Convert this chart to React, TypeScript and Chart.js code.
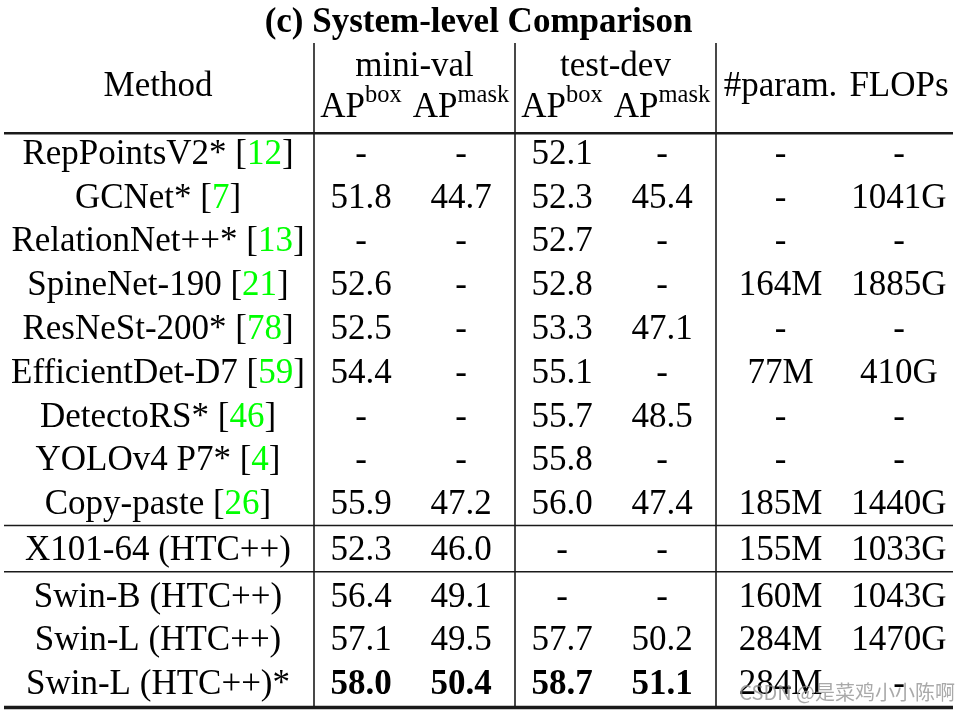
import React, { useEffect, useRef } from "react";
import { Chart, registerables } from "chart.js";

Chart.register(...registerables);

// ---------- data ----------
const TITLE = "(c) System-level Comparison";
const METHODS = [
  "RepPointsV2*",
  "GCNet*",
  "RelationNet++*",
  "SpineNet-190",
  "ResNeSt-200*",
  "EfficientDet-D7",
  "DetectoRS*",
  "YOLOv4 P7*",
  "Copy-paste",
  "X101-64 (HTC++)",
  "Swin-B (HTC++)",
  "Swin-L (HTC++)",
  "Swin-L (HTC++)*",
];
const CITATIONS = ["12", "7", "13", "21", "78", "59", "46", "4", "26", "", "", "", ""];
const MINIVAL_BOX = [null, 51.8, null, 52.6, 52.5, 54.4, null, null, 55.9, 52.3, 56.4, 57.1, 58.0];
const MINIVAL_MASK = [null, 44.7, null, null, null, null, null, null, 47.2, 46.0, 49.1, 49.5, 50.4];
const TESTDEV_BOX = [52.1, 52.3, 52.7, 52.8, 53.3, 55.1, 55.7, 55.8, 56.0, null, null, 57.7, 58.7];
const TESTDEV_MASK = [null, 45.4, null, null, 47.1, null, 48.5, null, 47.4, null, null, 50.2, 51.1];
const PARAMS = ["-", "-", "-", "164M", "-", "77M", "-", "-", "185M", "155M", "160M", "284M", "284M"];
const FLOPS = ["-", "1041G", "-", "1885G", "-", "410G", "-", "-", "1440G", "1033G", "1043G", "1470G", "-"];
const BOLD_AP_ROWS = [12];
const SEPARATOR_AFTER = [8, 9];
const WATERMARK = "CSDN @是菜鸡小小陈啊";

// ---------- layout (scale units) ----------
const COL_X = [1.58, 3.61, 4.61, 5.62, 6.62, 7.805, 8.99];
const VLINES = [3.14, 5.15, 7.16];
const RULE_LEFT = 0.04;
const RULE_RIGHT = 9.53;
const SEP_GAP = 0.055;
const FONT = '"Liberation Serif", "Times New Roman", serif';
const FS = 35;

const rowY = (i: number) => i + SEP_GAP * SEPARATOR_AFTER.filter((s) => s < i).length;

const fmt = (v: number | null) => (v === null ? "-" : v.toFixed(1));

const tablePlugin = {
  id: "tableDraw",
  afterDraw(chart: any) {
    const ctx = chart.ctx as CanvasRenderingContext2D;
    const xs = chart.scales.x;
    const ys = chart.scales.y;
    const X = (v: number) => xs.getPixelForValue(v);
    const Y = (v: number) => ys.getPixelForValue(v);
    const base = (v: number, size: number) => Y(v) + size * 0.338;

    ctx.save();
    ctx.fillStyle = "#000";
    ctx.textBaseline = "alphabetic";

    // title
    ctx.font = `bold ${FS}px ${FONT}`;
    ctx.textAlign = "center";
    ctx.fillText(TITLE, (X(RULE_LEFT) + X(RULE_RIGHT)) / 2, base(-3, FS));

    // header
    ctx.font = `${FS}px ${FONT}`;
    ctx.fillText("Method", X(COL_X[0]), base(-1.55, FS));
    ctx.fillText("mini-val", (X(VLINES[0]) + X(VLINES[1])) / 2, base(-2, FS));
    ctx.fillText("test-dev", (X(VLINES[1]) + X(VLINES[2])) / 2, base(-2, FS));
    ctx.fillText("#param.", X(COL_X[5]), base(-1.55, FS));
    ctx.fillText("FLOPs", X(COL_X[6]), base(-1.55, FS));

    const supSize = 24.5;
    const apHeader = (cx: number, sup: string) => {
      ctx.font = `${FS}px ${FONT}`;
      const w1 = ctx.measureText("AP").width;
      ctx.font = `${supSize}px ${FONT}`;
      const w2 = ctx.measureText(sup).width;
      const left = cx - (w1 + w2) / 2;
      const b = base(-1.06, FS);
      ctx.textAlign = "left";
      ctx.font = `${FS}px ${FONT}`;
      ctx.fillText("AP", left, b);
      ctx.font = `${supSize}px ${FONT}`;
      ctx.fillText(sup, left + w1, b - 15);
      ctx.textAlign = "center";
    };
    apHeader(X(COL_X[1]), "box");
    apHeader(X(COL_X[2]), "mask");
    apHeader(X(COL_X[3]), "box");
    apHeader(X(COL_X[4]), "mask");

    // method names with green citations
    ctx.font = `${FS}px ${FONT}`;
    METHODS.forEach((m, i) => {
      const cit = CITATIONS[i];
      const parts: [string, string][] = cit
        ? [[m + " [", "#000"], [cit, "#00ff00"], ["]", "#000"]]
        : [[m, "#000"]];
      const total = parts.reduce((s, p) => s + ctx.measureText(p[0]).width, 0);
      let x = X(COL_X[0]) - total / 2;
      const b = base(rowY(i), FS);
      ctx.textAlign = "left";
      parts.forEach(([t, c]) => {
        ctx.fillStyle = c;
        ctx.fillText(t, x, b);
        x += ctx.measureText(t).width;
      });
    });
    ctx.textAlign = "center";
    ctx.fillStyle = "#000";

    // data cells from dataset elements
    chart.data.datasets.forEach((ds: any, di: number) => {
      const meta = chart.getDatasetMeta(di);
      meta.data.forEach((el: any, i: number) => {
        const p = ds.data[i];
        ctx.font = `${p.bold ? "bold " : ""}${FS}px ${FONT}`;
        ctx.fillText(p.label, el.x, el.y + FS * 0.338);
      });
    });

    // rules
    ctx.strokeStyle = "#1a1a1a";
    const hline = (yv: number, lw: number) => {
      ctx.lineWidth = lw;
      ctx.beginPath();
      ctx.moveTo(X(RULE_LEFT), yv);
      ctx.lineTo(X(RULE_RIGHT), yv);
      ctx.stroke();
    };
    hline(Y(-0.43), 2.5);
    SEPARATOR_AFTER.forEach((s) => hline((Y(rowY(s)) + Y(rowY(s + 1))) / 2, 1.6));
    hline(Y(rowY(METHODS.length - 1) + 0.57), 3.5);
    ctx.lineWidth = 1.6;
    VLINES.forEach((v) => {
      ctx.beginPath();
      ctx.moveTo(X(v), Y(-2.49));
      ctx.lineTo(X(v), Y(rowY(METHODS.length - 1) + 0.55));
      ctx.stroke();
    });

    // watermark
    ctx.font = `20px "Noto Sans CJK SC", "Noto Sans", sans-serif`;
    ctx.fillStyle = "rgba(140,140,140,0.75)";
    ctx.textAlign = "right";
    ctx.fillText(WATERMARK, X(RULE_RIGHT) + 2, Y(rowY(METHODS.length - 1)) + 18);
    ctx.restore();
  },
};

function column(colIdx: number, values: (string | number | null)[], boldRows: number[] = []) {
  return {
    label: "col" + colIdx,
    data: values.map((v, i) => ({
      x: COL_X[colIdx],
      y: rowY(i),
      label: typeof v === "number" || v === null ? fmt(v as number | null) : v,
      bold: boldRows.includes(i),
    })),
    pointRadius: 0,
    pointHoverRadius: 0,
    showLine: false,
  };
}

export default function App() {
  const ref = useRef<HTMLCanvasElement>(null);
  useEffect(() => {
    document.body.style.margin = "0";
    document.body.style.background = "#fff";
    const chart = new Chart(ref.current!, {
      type: "scatter",
      data: {
        datasets: [
          column(1, MINIVAL_BOX, BOLD_AP_ROWS),
          column(2, MINIVAL_MASK, BOLD_AP_ROWS),
          column(3, TESTDEV_BOX, BOLD_AP_ROWS),
          column(4, TESTDEV_MASK, BOLD_AP_ROWS),
          column(5, PARAMS),
          column(6, FLOPS),
        ] as any,
      },
      options: {
        animation: false,
        responsive: false,
        events: [],
        layout: { padding: 0 },
        plugins: { legend: { display: false }, tooltip: { enabled: false } },
        scales: {
          x: { type: "linear", display: false, min: 0, max: 9.72 },
          y: { type: "linear", display: false, reverse: true, min: -3.47, max: 12.831 },
        },
      },
      plugins: [tablePlugin],
    });
    return () => chart.destroy();
  }, []);
  return <canvas ref={ref} width={972} height={714} style={{ display: "block", background: "#fff" }} />;
}
